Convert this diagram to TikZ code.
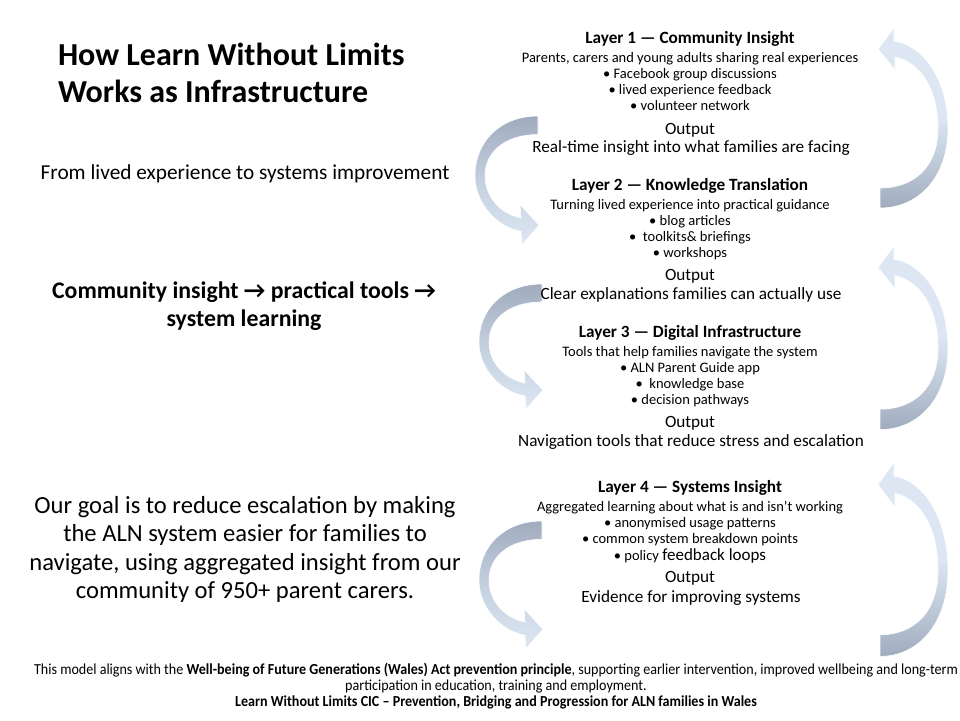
\documentclass[tikz,border=0pt]{standalone}
\usepackage{fontspec}
\setmainfont{Carlito}
\newfontfamily\footfont[FakeStretch=0.92]{Carlito}
\definecolor{arrdark}{RGB}{160,172,190}
\definecolor{arrmid}{RGB}{196,208,224}
\definecolor{arrlight}{RGB}{221,231,243}
\tikzset{
  fs/.style={font=\fontsize{#1}{#1}\selectfont},
  ln/.style={anchor=base, inner sep=0pt, outer sep=0pt},
  lyrtitle/.style={ln, font=\fontsize{17.2}{17}\selectfont\bfseries},
  lyrbody/.style={ln, font=\fontsize{14.5}{14}\selectfont},
  lyrout/.style={ln, font=\fontsize{17.2}{17}\selectfont},
  leftarrow/.style={top color=arrdark, bottom color=arrlight, middle color=arrmid, draw=white, line width=0.6pt},
  rightarrow/.style={top color=arrlight, bottom color=arrdark, middle color=arrlight, draw=white, line width=0.6pt},
}
\newcommand{\curvL}[2]{%
  \path[leftarrow, shift={#1}, yscale=#2]
    (63,0) .. controls (25,0) and (0,25) .. (0,58)
    .. controls (0,85) and (22,108) .. (46,112)
    -- (47,125) -- (64,106) -- (45,86) -- (46,99)
    .. controls (25,95) and (10,78) .. (10,58)
    .. controls (10,35) and (30,18) .. (63,18) -- cycle;}
\newcommand{\curvR}[2]{%
  \path[rightarrow, shift={#1}, yscale=#2]
    (16,13) .. controls (48,18) and (70,55) .. (70,100)
    .. controls (70,150) and (40,180) .. (2,180)
    -- (2,160)
    .. controls (35,160) and (60,140) .. (60,100)
    .. controls (60,65) and (45,35) .. (17,29)
    -- (17,42) -- (0,21) -- (16,0) -- cycle;}
\begin{document}
\begin{tikzpicture}[x=1pt,y=-1pt]
\path[use as bounding box, fill=white] (0,0) rectangle (960,720);

% curved arrows
\curvL{(475,116)}{1.03}
\curvL{(479,284)}{1.0}
\curvL{(479,521)}{1.02}
\curvR{(878,28)}{1.0}
\curvR{(878,246)}{1.02}
\curvR{(878,462)}{1.08}

% left column
\node[ln, anchor=base west, font=\fontsize{32}{32}\selectfont\bfseries] (t1) at (58,65) {How Learn Without Limits};
\node[ln, anchor=base west, font=\fontsize{32}{32}\selectfont\bfseries] (t2) at (58,102) {Works as Infrastructure};
\node[ln, fs=21.3] (sub) at (245,179) {From lived experience to systems improvement};
\node[ln, font=\fontsize{23.8}{24}\selectfont\bfseries] (c1) at (244,298) {Community insight \textrightarrow{} practical tools \textrightarrow};
\node[ln, font=\fontsize{23.8}{24}\selectfont\bfseries] (c2) at (244,326) {system learning};
\node[ln, fs=24.6] (g1) at (245,513) {Our goal is to reduce escalation by making};
\node[ln, fs=24.6] (g2) at (245,541.5) {the ALN system easier for families to};
\node[ln, fs=24.6] (g3) at (245,570) {navigate, using aggregated insight from our};
\node[ln, fs=24.6] (g4) at (245,598.3) {community of 950+ parent carers.};

% Layer 1
\node[lyrtitle] (l1t) at (690,43) {Layer 1 — Community Insight};
\node[lyrbody] (l1d) at (690,62) {Parents, carers and young adults sharing real experiences};
\node[lyrbody] (l1a) at (690,78) {• Facebook group discussions};
\node[lyrbody] (l1b) at (690,94) {• lived experience feedback};
\node[lyrbody] (l1c) at (690,110) {• volunteer network};
\node[lyrout] (l1o) at (690,134) {Output};
\node[lyrout] (l1r) at (691,152) {Real-time insight into what families are facing};

% Layer 2
\node[lyrtitle] (l2t) at (690,190) {Layer 2 — Knowledge Translation};
\node[lyrbody] (l2d) at (690,209) {Turning lived experience into practical guidance};
\node[lyrbody] (l2a) at (690,225) {• blog articles};
\node[lyrbody] (l2b) at (690,241) {•\ \ toolkits\& briefings};
\node[lyrbody] (l2c) at (690,257) {• workshops};
\node[lyrout] (l2o) at (690,280) {Output};
\node[lyrout] (l2r) at (691,299) {Clear explanations families can actually use};

% Layer 3
\node[lyrtitle] (l3t) at (690,337) {Layer 3 — Digital Infrastructure};
\node[lyrbody] (l3d) at (690,356) {Tools that help families navigate the system};
\node[lyrbody] (l3a) at (690,372) {• ALN Parent Guide app};
\node[lyrbody] (l3b) at (690,388) {•\ \ knowledge base};
\node[lyrbody] (l3c) at (690,404) {• decision pathways};
\node[lyrout] (l3o) at (690,427) {Output};
\node[lyrout] (l3r) at (691,446) {Navigation tools that reduce stress and escalation};

% Layer 4
\node[lyrtitle] (l4t) at (690,492) {Layer 4 — Systems Insight};
\node[lyrbody] (l4d) at (690,511) {Aggregated learning about what is and isn’t working};
\node[lyrbody] (l4a) at (690,527) {• anonymised usage patterns};
\node[lyrbody] (l4b) at (690,543) {• common system breakdown points};
\node[lyrbody] (l4c) at (690,560) {• policy {\fontsize{17}{17}\selectfont feedback loops}};
\node[lyrout] (l4o) at (690,582) {Output};
\node[lyrout] (l4r) at (691,602) {Evidence for improving systems};

% footer
\node[ln, font=\fontsize{15.3}{15}\footfont] (f1) at (496,674.5) {This model aligns with the \textbf{Well-being of Future Generations (Wales) Act prevention principle}, supporting earlier intervention, improved wellbeing and long-term};
\node[ln, font=\fontsize{15.3}{15}\footfont] (f2) at (496,690.5) {participation in education, training and employment.};
\node[ln, font=\fontsize{15.3}{15}\footfont\bfseries] (f3) at (496,706.5) {Learn Without Limits CIC – Prevention, Bridging and Progression for ALN families in Wales};
\end{tikzpicture}
\end{document}
